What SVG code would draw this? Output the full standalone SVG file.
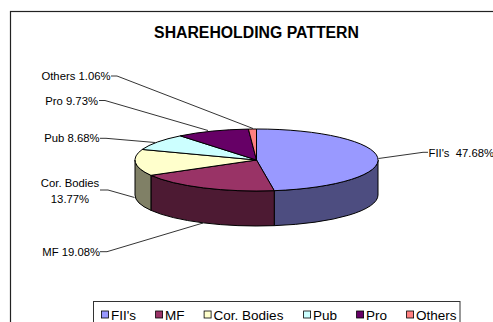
<svg xmlns="http://www.w3.org/2000/svg" width="493" height="322" viewBox="0 0 493 322">
<style>
text{font-family:"Liberation Sans",Arial,sans-serif;fill:#000}
.title{font-size:15.8px;font-weight:bold}
.lbl{font-size:11.3px;white-space:pre}
.leg{font-size:13.5px}
.s{stroke:#000;stroke-width:1;stroke-linejoin:round}
.lead{fill:none;stroke:#000;stroke-width:0.8}
.sw{stroke:#000;stroke-width:0.8}
</style>
<rect x="0" y="0" width="493" height="322" fill="#fff"/>
<rect x="10.5" y="11.5" width="600" height="400" fill="none" stroke="#222" stroke-width="1.2"/>
<text class="title" x="256.5" y="38.3" text-anchor="middle">SHAREHOLDING PATTERN</text>

<g id="connectors">
<polyline class="lead" points="111,76 117,76 253,128.5"/>
<polyline class="lead" points="99,100.5 105,100.5 208,130.5"/>
<polyline class="lead" points="100,138.3 106,138.3 155,142.5"/>
<polyline class="lead" points="100,190 108,190 134.5,197.5"/>
<polyline class="lead" points="100,251.7 107,251.7 203,223"/>
<polyline class="lead" points="378.5,158.5 423,152.3 428,152.3"/>
</g>

<g id="pie">
<g id="sides">
<path class="s" fill="#4D4D80" d="M378,160 A121.5,31 0 0,1 274.25,190.67 L274.25,225.67 A121.5,31 0 0,0 378,195 Z"/>
<path class="s" fill="#4D1A33" d="M274.25,190.67 A121.5,31 0 0,1 150.93,175.34 L150.93,210.34 A121.5,31 0 0,0 274.25,225.67 Z"/>
<path class="s" fill="#808066" d="M150.93,175.34 A121.5,31 0 0,1 135,160 L135,195 A121.5,31 0 0,0 150.93,210.34 Z"/>
</g>
<g id="slice-fii"><path class="s" fill="#9999FF" d="M256.5,160 L256.5,129 A121.5,31 0 0,1 274.25,190.67 Z"/></g>
<g id="slice-mf"><path class="s" fill="#993366" d="M256.5,160 L274.25,190.67 A121.5,31 0 0,1 150.93,175.34 Z"/></g>
<g id="slice-cor"><path class="s" fill="#FFFFCC" d="M256.5,160 L150.93,175.34 A121.5,31 0 0,1 142.26,149.44 Z"/></g>
<g id="slice-pub"><path class="s" fill="#CCFFFF" d="M256.5,160 L142.26,149.44 A121.5,31 0 0,1 180.3,135.86 Z"/></g>
<g id="slice-pro"><path class="s" fill="#660066" d="M256.5,160 L180.3,135.86 A121.5,31 0 0,1 248.41,129.07 Z"/></g>
<g id="slice-others"><path class="s" fill="#FF8080" d="M256.5,160 L248.41,129.07 A121.5,31 0 0,1 256.5,129 Z"/></g>
</g>

<g id="labels">
<text class="lbl" x="110.5" y="80" text-anchor="end">Others 1.06%</text>
<text class="lbl" x="98" y="104.8" text-anchor="end">Pro 9.73%</text>
<text class="lbl" x="99.5" y="142" text-anchor="end">Pub 8.68%</text>
<text class="lbl" x="70" y="187" text-anchor="middle">Cor. Bodies</text>
<text class="lbl" x="70" y="202.5" text-anchor="middle">13.77%</text>
<text class="lbl" x="100" y="255.6" text-anchor="end">MF 19.08%</text>
<text class="lbl" x="428.5" y="156.5">FII's  47.68%</text>
</g>

<g id="legend">
<rect x="93.5" y="301.5" width="366.5" height="40" fill="#fff" stroke="#333" stroke-width="1"/>
<rect class="sw" x="101.5" y="311" width="7" height="7" fill="#9999FF"/>
<text class="leg" x="111" y="320">FII's</text>
<rect class="sw" x="155.6" y="311" width="7" height="7" fill="#993366"/>
<text class="leg" x="165.1" y="320">MF</text>
<rect class="sw" x="204.1" y="311" width="7" height="7" fill="#FFFFCC"/>
<text class="leg" x="213.6" y="320">Cor. Bodies</text>
<rect class="sw" x="303.6" y="311" width="7" height="7" fill="#CCFFFF"/>
<text class="leg" x="313.1" y="320">Pub</text>
<rect class="sw" x="356.6" y="311" width="7" height="7" fill="#660066"/>
<text class="leg" x="366.1" y="320">Pro</text>
<rect class="sw" x="406.6" y="311" width="7" height="7" fill="#FF8080"/>
<text class="leg" x="416.1" y="320">Others</text>
</g>
</svg>
